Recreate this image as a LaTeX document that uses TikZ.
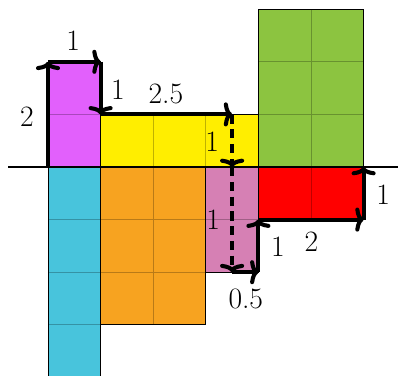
\documentclass[tikz,border=0pt]{standalone}
\usepackage{tikz}
\usetikzlibrary{arrows.meta}

\definecolor{barMagenta}{RGB}{226,96,252}
\definecolor{barCyan}{RGB}{72,196,220}
\definecolor{barYellow}{RGB}{255,238,0}
\definecolor{barOrange}{RGB}{247,163,32}
\definecolor{barPink}{RGB}{214,128,180}
\definecolor{barGreen}{RGB}{140,196,64}
\definecolor{barRed}{RGB}{255,0,0}

\begin{document}
\begin{tikzpicture}[
    barbox/.style={draw=black, line width=0.5pt},
    cellgrid/.style={black, opacity=0.25, line width=0.5pt},
    axisline/.style={line width=1.1pt},
    move/.style={-{To[length=4.5pt, width=13pt]}, line width=2.2pt},
    jump/.style={move, dash pattern=on 5pt off 3pt},
    lbl/.style={font=\fontsize{16}{19}\selectfont, inner sep=1pt}
  ]
    \useasboundingbox (-0.913,-3.973) rectangle (6.654,3.175);
    % bars above and below the axis
    \fill[barMagenta] (0,0) rectangle (1,2);
    \fill[barYellow] (1,0) rectangle (4,1);
    \fill[barGreen] (4,0) rectangle (6,3);
    \fill[barCyan] (0,0) rectangle (1,-4);
    \fill[barOrange] (1,0) rectangle (3,-3);
    \fill[barPink] (3,0) rectangle (4,-2);
    \fill[barRed] (4,0) rectangle (6,-1);
    \draw[cellgrid] (0,0) grid (1,2);
    \draw[cellgrid] (1,0) grid (4,1);
    \draw[cellgrid] (4,0) grid (6,3);
    \draw[cellgrid] (0,-4) grid (1,0);
    \draw[cellgrid] (1,-3) grid (3,0);
    \draw[cellgrid] (3,-2) grid (4,0);
    \draw[cellgrid] (4,-1) grid (6,0);
    \draw[barbox] (0,0) rectangle (1,2);
    \draw[barbox] (1,0) rectangle (4,1);
    \draw[barbox] (4,0) rectangle (6,3);
    \draw[barbox] (0,0) rectangle (1,-4);
    \draw[barbox] (1,0) rectangle (3,-3);
    \draw[barbox] (3,0) rectangle (4,-2);
    \draw[barbox] (4,0) rectangle (6,-1);
    \draw[axisline] (-0.76,0) -- (6.66,0);
    % corners of the walk
    \coordinate (start) at (0,0);
    \coordinate (up) at (0,2);
    \coordinate (top) at (1,2);
    \coordinate (ledge) at (1,1);
    \coordinate (edge) at (3.5,1);
    \coordinate (cross) at (3.5,0);
    \coordinate (low) at (3.5,-2);
    \coordinate (corner) at (4,-2);
    \coordinate (rise) at (4,-1);
    \coordinate (far) at (6,-1);
    \coordinate (finish) at (6,0);
    \draw[move] (start) -- (up);
    \draw[move] (up) -- (top);
    \draw[move] (top) -- (ledge);
    \draw[move] (ledge) -- (edge);
    \draw[jump] (edge) -- (cross);
    \draw[jump] (cross) -- (low);
    \draw[move] (low) -- (corner);
    \draw[move] (corner) -- (rise);
    \draw[move] (rise) -- (far);
    \draw[move] (far) -- (finish);
    % step lengths
    \node[lbl] (lUp) at (-0.40,0.95) {2};
    \node[lbl] (lTop) at (0.48,2.41) {1};
    \node[lbl] (lLedge) at (1.33,1.46) {1};
    \node[lbl] (lEdge) at (2.24,1.39) {2.5};
    \node[lbl] (lCross) at (3.12,0.48) {1};
    \node[lbl] (lLow) at (3.14,-1.0) {1};
    \node[lbl] (lCorner) at (3.76,-2.5) {0.5};
    \node[lbl] (lRise) at (4.37,-1.51) {1};
    \node[lbl] (lFar) at (5.01,-1.42) {2};
    \node[lbl] (lFinish) at (6.37,-0.53) {1};
\end{tikzpicture}
\end{document}
